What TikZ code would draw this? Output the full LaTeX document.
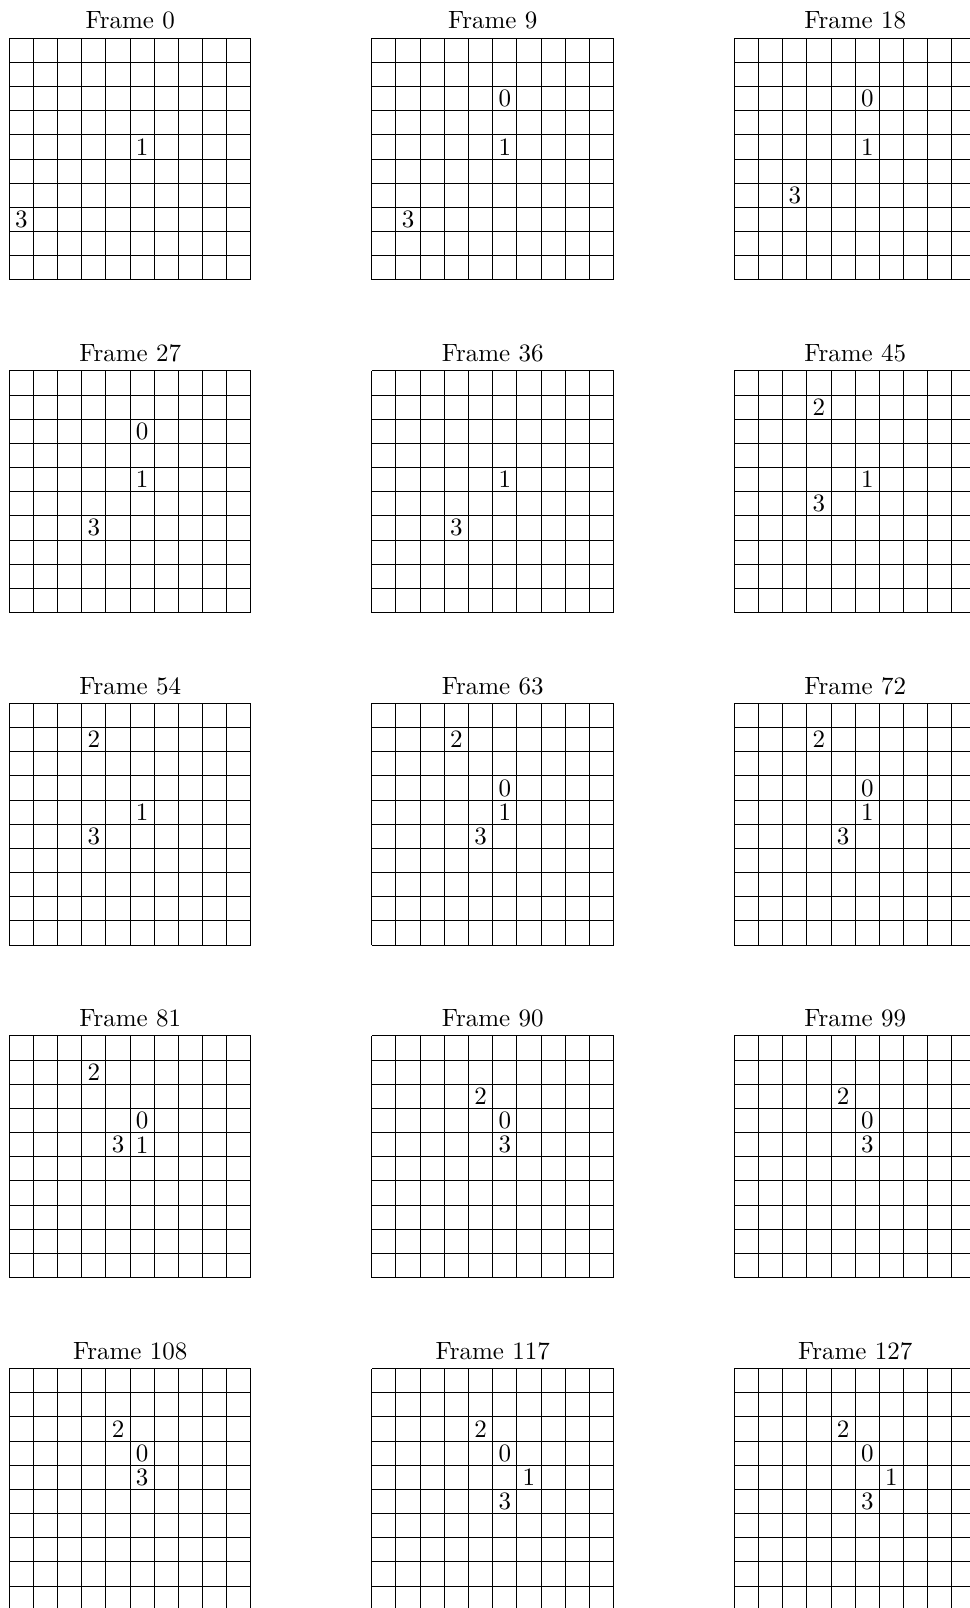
\documentclass[tikz,border=0pt]{standalone}
\usepackage{tikz}
\tikzset{
  gridline/.style={draw=black,line width=0.4pt},
  agentlabel/.style={inner sep=0pt},
}
% one frame: #1,#2 = top left corner of the grid, #3 = frame number, #4 = col/row/id list
\newcommand{\framegrid}[4]{%
  \begin{scope}[shift={(#1,#2)}]
    \draw[gridline,step={(1,1)}] (0,-10) grid (10,0);
    \node[above] (frame#3) at (5,0) {Frame #3};
    \foreach \c/\r/\id in {#4}{
      \node[agentlabel] (f#3a\id) at (\c+0.5,-\r-0.5) {\id};}
  \end{scope}
}

\begin{document}
\begin{tikzpicture}[x=9.67pt,y=9.67pt]
        \clip (-0.385,1.585) rectangle (39.75,-64.95);
        % row 1
        \framegrid{0}{0}{0}{5/4/1,0/7/3}
        \framegrid{15}{0}{9}{5/2/0,5/4/1,1/7/3}
        \framegrid{30}{0}{18}{5/2/0,5/4/1,2/6/3}
        % row 2
        \framegrid{0}{-13.76}{27}{5/2/0,5/4/1,3/6/3}
        \framegrid{15}{-13.76}{36}{5/4/1,3/6/3}
        \framegrid{30}{-13.76}{45}{3/1/2,5/4/1,3/5/3}
        % row 3
        \framegrid{0}{-27.52}{54}{3/1/2,5/4/1,3/5/3}
        \framegrid{15}{-27.52}{63}{3/1/2,5/3/0,5/4/1,4/5/3}
        \framegrid{30}{-27.52}{72}{3/1/2,5/3/0,5/4/1,4/5/3}
        % row 4
        \framegrid{0}{-41.28}{81}{3/1/2,5/3/0,4/4/3,5/4/1}
        \framegrid{15}{-41.28}{90}{4/2/2,5/3/0,5/4/3}
        \framegrid{30}{-41.28}{99}{4/2/2,5/3/0,5/4/3}
        % row 5
        \framegrid{0}{-55.04}{108}{4/2/2,5/3/0,5/4/3}
        \framegrid{15}{-55.04}{117}{4/2/2,5/3/0,6/4/1,5/5/3}
        \framegrid{30}{-55.04}{127}{4/2/2,5/3/0,6/4/1,5/5/3}
      \end{tikzpicture}
\end{document}
